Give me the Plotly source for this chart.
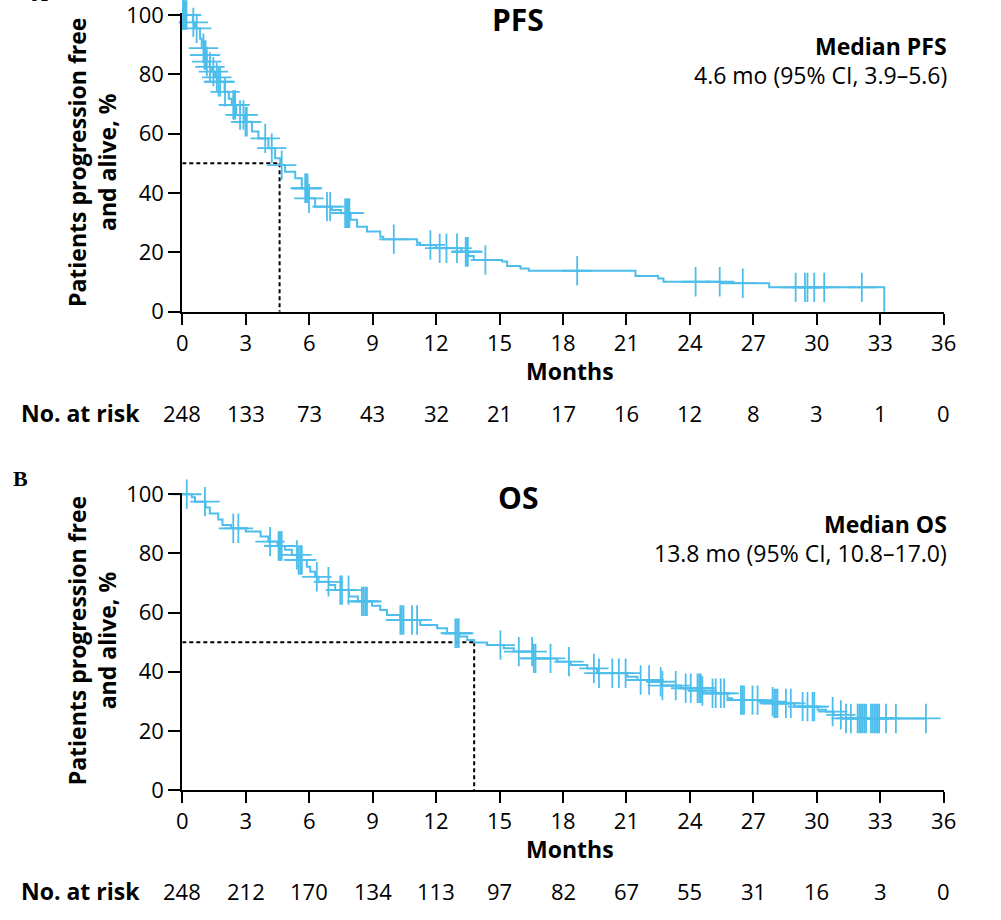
import plotly.graph_objects as go

# ---------------- data ----------------
months_ticks = [0, 3, 6, 9, 12, 15, 18, 21, 24, 27, 30, 33, 36]
pct_ticks = [0, 20, 40, 60, 80, 100]

pfs_at_risk = [248, 133, 73, 43, 32, 21, 17, 16, 12, 8, 3, 1, 0]
os_at_risk = [248, 212, 170, 134, 113, 97, 82, 67, 55, 31, 16, 3, 0]

# PFS Kaplan-Meier steps: event times (months) and survival (%) after each event
pfs_t = [0.5, 0.6, 0.84, 0.92, 1.05, 1.15, 1.3, 1.4, 1.55, 1.7, 2.0, 2.2, 2.34, 2.55,
         2.97, 3.29, 3.6, 4.07, 4.39, 4.63, 4.86, 5.34, 5.65, 5.97, 6.28, 7.07, 7.5,
         7.96, 8.26, 8.73, 9.36, 9.5, 11.1, 11.25, 12.0, 13.2, 13.52, 13.78, 15.12,
         15.36, 15.99, 16.38, 21.43, 22.5, 22.75, 25.45, 27.75, 33.19]
pfs_s = [97.5, 95.5, 92.0, 88.8, 86.5, 84.3, 82.5, 80.9, 79.0, 77.5, 74.1, 71.8, 69.7, 66.3,
         64.0, 60.7, 58.4, 55.1, 51.7, 49.4, 47.2, 45.0, 41.6, 38.2, 35.4, 34.3, 33.2,
         31.0, 28.6, 27.0, 25.3, 24.4, 23.2, 22.5, 21.4, 20.2, 18.8, 17.4, 16.9,
         15.4, 14.6, 13.8, 12.0, 11.2, 10.1, 9.6, 8.2, 0.0]
pfs_cens = [0.03, 0.06, 0.1, 0.14, 0.2, 0.52, 0.68, 1.0, 1.05, 1.1, 1.16, 1.31, 1.47,
            1.63, 1.71, 1.79, 2.02, 2.41, 2.45, 2.5, 2.73, 2.89, 2.99, 3.05, 3.92, 4.23,
            4.7, 5.81, 5.86, 5.92, 5.99, 6.84, 6.99, 7.7, 7.75, 7.8, 7.85, 7.9, 10.0,
            11.73, 12.17, 12.49, 12.99, 13.4, 13.45, 13.5, 14.33, 18.67, 24.27, 25.41,
            26.5, 29.0, 29.44, 29.56, 29.88, 30.35, 32.13]

# OS Kaplan-Meier steps
os_t = [0.45, 0.6, 1.1, 1.3, 1.7, 1.9, 2.3, 3.0, 3.7, 4.07, 4.5, 4.86, 5.18, 5.49, 5.89,
        6.05, 6.28, 6.44, 6.93, 7.23, 7.88, 8.3, 8.97, 9.36, 9.68, 10.3, 11.25, 12.05,
        12.52, 13.1, 13.47, 13.8, 14.41, 15.2, 15.67, 16.62, 17.73, 18.36, 19.15, 19.62,
        21.04, 21.52, 22.14, 22.64, 23.57, 24.55, 24.65, 25.78, 26.0, 27.35, 27.98, 28.93,
        30.04, 30.43, 30.8, 31.16]
os_s = [99.0, 97.5, 95.5, 93.5, 91.5, 89.6, 88.5, 87.4, 85.7, 84.0, 82.5, 81.2, 79.5, 77.8,
        75.5, 73.8, 72.1, 70.4, 69.3, 67.6, 65.4, 63.8, 62.3, 60.9, 59.2, 57.5, 55.8, 54.7,
        53.0, 51.9, 50.7, 49.9, 49.0, 47.9, 46.8, 44.5, 43.4, 42.3, 41.1, 39.5,
        38.3, 37.2, 36.6, 35.3, 34.4, 33.5, 32.7, 31.0, 30.4, 29.9, 29.3, 28.2,
        27.1, 26.5, 25.4, 24.2]
os_cens = [0.21, 1.07, 2.41, 2.65, 4.15, 4.55, 4.6, 4.65, 4.7, 5.42, 5.5, 5.58, 5.65, 6.36,
           6.91, 7.47, 7.55, 7.86, 8.49, 8.57, 8.65, 8.73, 10.31, 10.38, 10.46, 10.86, 11.1,
           12.91, 12.99, 13.07, 15.04, 15.91, 16.54, 16.62, 16.7, 17.41, 18.28, 19.46, 19.7,
           20.33, 20.64, 20.96, 21.67, 22.07, 22.62, 22.7, 23.33, 23.8, 24.04, 24.36, 24.44,
           24.52, 24.59, 25.07, 25.22, 25.46, 25.62, 26.41, 26.48, 26.56, 26.96, 27.2, 27.91,
           27.99, 28.07, 28.14, 28.54, 28.77, 29.33, 29.56, 29.8, 29.88, 30.75, 31.14, 31.38,
           31.61, 31.93, 32.01, 32.09, 32.17, 32.25, 32.33, 32.56, 32.64, 32.72, 32.8, 32.88,
           32.95, 33.27, 33.74, 35.16]

pfs_median = 4.6
os_median = 13.8
median_level = 50

BLUE = "#4DBEEB"
FONT = "Open Sans"


def km_path(ts, ss, end_t):
    xs, ys = [0.0], [100.0]
    for t, s in zip(ts, ss):
        xs.append(t)
        ys.append(s)
    if end_t > xs[-1]:
        xs.append(end_t)
        ys.append(ys[-1])
    return xs, ys


def km_value(ts, ss, t):
    v = 100.0
    for tt, s in zip(ts, ss):
        if tt <= t:
            v = s
    return v


fig = go.Figure()

panels = [
    ("x", "y", pfs_t, pfs_s, pfs_cens, pfs_median),
    ("x2", "y2", os_t, os_s, os_cens, os_median),
]
for xa, ya, ts, ss, cens, med in panels:
    fig.add_trace(go.Scatter(x=[0, med], y=[median_level, median_level], mode="lines",
                             line=dict(color="black", width=2, dash="4px,3px"),
                             xaxis=xa, yaxis=ya, hoverinfo="skip"))
    fig.add_trace(go.Scatter(x=[med, med], y=[median_level, 0], mode="lines",
                             line=dict(color="black", width=2, dash="4px,3px"),
                             xaxis=xa, yaxis=ya, hoverinfo="skip"))
    end_t = max(ts[-1], max(cens))
    xs, ys = km_path(ts, ss, end_t)
    fig.add_trace(go.Scatter(x=xs, y=ys, mode="lines", line=dict(color=BLUE, width=2, shape="hv"),
                             xaxis=xa, yaxis=ya, hoverinfo="skip"))
    fig.add_trace(go.Scatter(x=cens, y=[km_value(ts, ss, c) for c in cens], mode="markers",
                             marker=dict(symbol="cross-thin", size=21,
                                         line=dict(color=BLUE, width=1.8)),
                             cliponaxis=False, xaxis=xa, yaxis=ya, hoverinfo="skip"))

xdom = [182.3 / 1001, 943.7 / 1001]
axis_common = dict(showline=True, linecolor="black", linewidth=2, ticks="outside",
                   tickcolor="black", tickwidth=2, showgrid=False, zeroline=False,
                   automargin=False, ticklabeloverflow="allow",
                   tickfont=dict(family=FONT, size=22, color="black"))

for xa_name, anchor in (("xaxis", "y"), ("xaxis2", "y2")):
    fig.layout[xa_name] = dict(domain=xdom, range=[0, 36], tickvals=months_ticks,
                               ticklen=11, anchor=anchor, **axis_common)
fig.layout["yaxis"] = dict(domain=[(920 - 311.7) / 920, (920 - 13.2) / 920], range=[0, 100.6],
                           tickvals=pct_ticks, ticklen=12, anchor="x", **axis_common)
fig.layout["yaxis2"] = dict(domain=[(920 - 790) / 920, (920 - 492.5) / 920], range=[0, 100.6],
                            tickvals=pct_ticks, ticklen=12, anchor="x2", **axis_common)

ann = []


def py(p):
    return (920 - p) / 920


def px(p):
    return p / 1001


def add_text(text, x, y, size=23, bold=False, xanchor="center", family=FONT, angle=0):
    t = "<b>%s</b>" % text if bold else text
    ann.append(dict(text=t, x=x, y=y, xref="paper", yref="paper", xanchor=xanchor,
                    yanchor="middle", showarrow=False, textangle=angle,
                    font=dict(family=family, size=size, color="black")))


for off, title, med_title, med_text, risk in (
        (0, "PFS", "Median PFS", "4.6 mo (95% CI, 3.9–5.6)", pfs_at_risk),
        (478.3, "OS", "Median OS", "13.8 mo (95% CI, 10.8–17.0)", os_at_risk)):
    add_text(title, px(518), py(19 + off), size=30, bold=True)
    add_text(med_title, px(949), py(46 + off), bold=True, xanchor="right")
    add_text(med_text, px(949), py(75 + off), xanchor="right")
    add_text("Months", px(570), py(371 + off), bold=True)
    add_text("No. at risk", px(19), py(413 + off), bold=True, xanchor="left")
    add_text("Patients progression free<br>and alive, %", px(92), py(163 + off),
             bold=True, angle=-90)
    for t, n in zip(months_ticks, risk):
        ann.append(dict(text=str(n), x=182.3 / 1001 + t * 21.15 / 1001, y=py(413 + off),
                        xref="paper", yref="paper", xanchor="center", yanchor="middle",
                        showarrow=False, font=dict(family=FONT, size=22, color="black")))

add_text("A", px(40), py(-6), size=22, bold=True, family="Liberation Serif")
add_text("B", px(20), py(478), size=22, bold=True, family="Liberation Serif")

fig.update_layout(width=1001, height=920,
                  margin=dict(l=0, r=0, t=0, b=0, pad=0, autoexpand=False),
                  paper_bgcolor="white", plot_bgcolor="white", showlegend=False,
                  annotations=ann, hovermode=False)

fig.write_html("out.html", config={"displayModeBar": False},
               post_script="document.body.style.margin='0';document.body.style.overflow='hidden';")
